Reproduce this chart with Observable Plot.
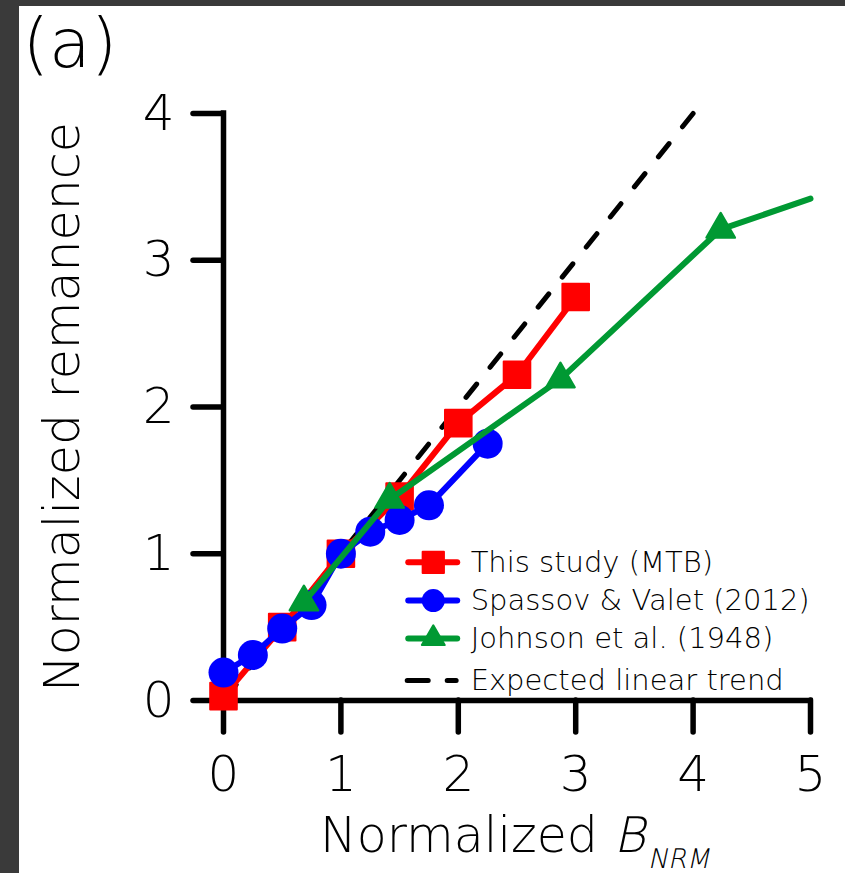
<!DOCTYPE html>
<html><head><meta charset="utf-8">
<script src="https://cdn.jsdelivr.net/npm/d3@7"></script>
<script src="https://cdn.jsdelivr.net/npm/@observablehq/plot@0.6"></script>
<style>
html,body{margin:0;padding:0;background:#3a3a3a;width:845px;height:873px;overflow:hidden}
#wrap{position:absolute;left:19px;top:6px;width:826px;height:867px;background:#fff}
svg{display:block}
svg text{font-weight:200}
</style></head><body><div id="wrap"></div>
<script>
// ---- data ----
const seriesNames = ["This study (MTB)", "Spassov & Valet (2012)", "Johnson et al. (1948)", "Expected linear trend"];
const studyX = [0, 0.5, 1, 1.5, 2, 2.5, 3];
const studyY = [0.03, 0.5, 1.0, 1.39, 1.89, 2.22, 2.75];
const spassovX = [0, 0.25, 0.5, 0.75, 1, 1.25, 1.5, 1.75, 2.25];
const spassovY = [0.19, 0.31, 0.49, 0.65, 1.0, 1.15, 1.23, 1.33, 1.75];
const johnsonX = [0.685, 1.415, 2.87, 4.235, 5.0];
const johnsonY = [0.67, 1.37, 2.19, 3.21, 3.42];
const johnsonMarked = [true, true, true, true, false];
const trendX = [4, 0];
const trendY = [4, 0];
const xTicks = [0, 1, 2, 3, 4, 5];
const yTicks = [0, 1, 2, 3, 4];

// ---- build ----
const RED = "#ff0000", BLUE = "#0000ff", GREEN = "#009933";
const study = studyX.map((x, i) => ({x, y: studyY[i]}));
const spassov = spassovX.map((x, i) => ({x, y: spassovY[i]}));
const johnson = johnsonX.map((x, i) => ({x, y: johnsonY[i], marked: johnsonMarked[i]}));
const trend = trendX.map((x, i) => ({x, y: trendY[i]}));

// legend layout (data units inside the frame)
const LX1 = 1.578, LX2 = 1.995, LXM = 1.787, LXT = 2.105;
const LY = [0.942, 0.681, 0.4225, 0.136];

const FONT = "DejaVu Sans";

const chart = Plot.plot({
  width: 826, height: 867,
  marginLeft: 204, marginRight: 35, marginTop: 107, marginBottom: 173,
  x: {domain: [0, 5]},
  y: {domain: [0, 4]},
  style: {fontFamily: FONT, background: "white", color: "black", overflow: "visible"},
  marks: [
    Plot.ruleY([0], {x1: 0, x2: 5, stroke: "black", strokeWidth: 5.5, strokeLinecap: "square"}),
    Plot.ruleX([0], {y1: 0, y2: 4, stroke: "black", strokeWidth: 5.5, strokeLinecap: "square"}),
    Plot.axisX({ticks: xTicks, tickSize: 32, tickPadding: 23, strokeWidth: 5.5, strokeLinecap: "round", fontSize: 50, label: null, tickFormat: d => String(d)}),
    Plot.axisY({ticks: yTicks, tickSize: 30, tickPadding: 19, strokeWidth: 5.5, strokeLinecap: "round", fontSize: 50, label: null, tickFormat: d => String(d)}),

    Plot.line(trend, {x: "x", y: "y", stroke: "black", strokeWidth: 5, strokeDasharray: "17,21.5", strokeLinecap: "round"}),
    Plot.line(study, {x: "x", y: "y", stroke: RED, strokeWidth: 6, strokeLinejoin: "round", strokeLinecap: "round"}),
    Plot.dot(study, {x: "x", y: "y", symbol: "square", r: 15, fill: RED, stroke: RED, strokeWidth: 2, strokeLinejoin: "round"}),
    Plot.line(spassov, {x: "x", y: "y", stroke: BLUE, strokeWidth: 6, strokeLinejoin: "round", strokeLinecap: "round"}),
    Plot.dot(spassov, {x: "x", y: "y", symbol: "circle", r: 15, fill: BLUE}),
    Plot.line(johnson, {x: "x", y: "y", stroke: GREEN, strokeWidth: 6, strokeLinejoin: "round", strokeLinecap: "round"}),
    Plot.dot(johnson.filter(d => d.marked), {x: "x", y: "y", symbol: "triangle", r: 10.5, fill: GREEN, stroke: GREEN, strokeWidth: 2.5, strokeLinejoin: "round"}),

    // legend
    Plot.ruleY([LY[0]], {x1: LX1, x2: LX2, stroke: RED, strokeWidth: 6, strokeLinecap: "round"}),
    Plot.dot([LY[0]], {x: LXM, y: d => d, symbol: "square", r: 12, fill: RED, stroke: RED, strokeWidth: 2, strokeLinejoin: "round"}),
    Plot.ruleY([LY[1]], {x1: LX1, x2: LX2, stroke: BLUE, strokeWidth: 6, strokeLinecap: "round"}),
    Plot.dot([LY[1]], {x: LXM, y: d => d, symbol: "circle", r: 11.5, fill: BLUE}),
    Plot.ruleY([LY[2]], {x1: LX1, x2: LX2, stroke: GREEN, strokeWidth: 6, strokeLinecap: "round"}),
    Plot.dot([LY[2]], {x: LXM, y: d => d, symbol: "triangle", r: 8.5, fill: GREEN, stroke: GREEN, strokeWidth: 2, strokeLinejoin: "round"}),
    Plot.ruleY([LY[3]], {x1: 1.569, x2: 1.986, stroke: "black", strokeWidth: 5, strokeDasharray: "21,19", strokeLinecap: "round"}),
    Plot.text(seriesNames, {x: LXT, y: (d, i) => LY[i], text: d => d, textAnchor: "start", lineAnchor: "middle", fontSize: 29, fill: "black"}),

    // y title & panel label
    Plot.text(["Normalized remanence"], {frameAnchor: "left", rotate: -90, dx: -145, lineAnchor: "bottom", textAnchor: "middle", fontSize: 49, fill: "black"}),
    Plot.text(["(a)"], {frameAnchor: "top-left", dx: -201, dy: -47, lineAnchor: "bottom", textAnchor: "start", fontSize: 68, fill: "black"})
  ]
});
document.getElementById("wrap").appendChild(chart);

// x title: "Normalized " + slanted B + slanted subscript NRM (light weight, synthetic slant)
const svg = d3.select(chart);
const g = svg.append("g").attr("font-family", FONT).attr("fill", "black").attr("text-anchor", "start");
const baseY = 846, centerX = 496;
const t1 = g.append("text").attr("font-size", 49).attr("y", baseY).style("white-space", "pre").text("Normalized ");
const t2 = g.append("text").attr("font-size", 49).text("B");
const t3 = g.append("text").attr("font-size", 27).text("NRM");
const w1 = t1.node().getComputedTextLength();
const w2 = t2.node().getComputedTextLength();
const w3 = t3.node().getComputedTextLength();
const total = w1 + w2 + w3 + 2;
const x0 = centerX - total / 2;
t1.attr("x", x0);
const bx = x0 + w1, subY = baseY + 16, sx = bx + w2 + 2;
t2.attr("transform", `translate(${bx},${baseY}) skewX(-12)`);
t3.attr("transform", `translate(${sx},${subY}) skewX(-12)`);
</script>
</body></html>
